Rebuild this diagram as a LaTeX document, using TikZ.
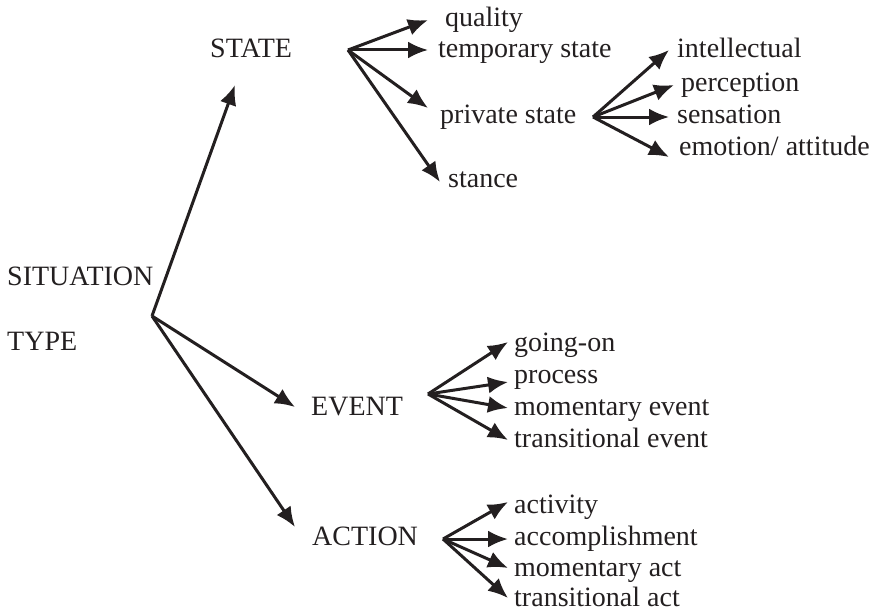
\documentclass[tikz,border=0pt]{standalone}
\usepackage{fontspec}
\setmainfont{Liberation Serif}
\usetikzlibrary{arrows.meta}
\definecolor{ink}{RGB}{35,31,32}
\begin{document}
\begin{tikzpicture}[x=1pt,y=-1pt,
  lbl/.style={anchor=base west,inner sep=0pt,text=ink,font=\fontsize{28}{34}\selectfont},
  arr/.style={draw=ink,line width=3pt,-{Latex[length=20pt,width=17pt]}}]
\useasboundingbox (0,0) rectangle (874,615);
% text nodes
\node[lbl] (sit) at (7,285) {SITUATION};
\node[lbl] (typ) at (7,350) {TYPE};
\node[lbl] (state) at (210,58) {STATE};
\node[lbl] (event) at (311,415) {EVENT};
\node[lbl] (action) at (312,545) {ACTION};
\node[lbl] (quality) at (445,27) {quality};
\node[lbl] (temp) at (438,58) {temporary state};
\node[lbl] (priv) at (440,123) {private state};
\node[lbl] (stance) at (448,187) {stance};
\node[lbl] (intel) at (677,58) {intellectual};
\node[lbl] (perc) at (681,92) {perception};
\node[lbl] (sens) at (677,123) {sensation};
\node[lbl] (emo) at (679,155) {emotion/ attitude};
\node[lbl] (going) at (514,351) {going-on};
\node[lbl] (proc) at (514,383) {process};
\node[lbl] (momev) at (514,415) {momentary event};
\node[lbl] (transev) at (514,447) {transitional event};
\node[lbl] (activ) at (514,513) {activity};
\node[lbl] (accomp) at (514,545) {accomplishment};
\node[lbl] (momact) at (514,576) {momentary act};
\node[lbl] (transact) at (514,606) {transitional act};
% fork points and arrow tips
\coordinate (fsit) at (152,316);
\coordinate (tstate) at (235,85);
\coordinate (tevent) at (295,407);
\coordinate (taction) at (295,527);
\coordinate (fstate) at (348,50);
\coordinate (tquality) at (428,20);
\coordinate (ttemp) at (428,50);
\coordinate (tpriv) at (428,108);
\coordinate (tstance) at (440,182);
\coordinate (fpriv) at (593,117);
\coordinate (tintel) at (669,50);
\coordinate (tperc) at (674,85);
\coordinate (tsens) at (669,117);
\coordinate (temo) at (669,157);
\coordinate (fevent) at (428,394);
\coordinate (tgoing) at (508,342);
\coordinate (tproc) at (508,382);
\coordinate (tmomev) at (508,408);
\coordinate (ttransev) at (508,440);
\coordinate (faction) at (443,539);
\coordinate (tactiv) at (508,502);
\coordinate (taccomp) at (508,539);
\coordinate (tmomact) at (508,568);
\coordinate (ttransact) at (508,598);
% connectors
\draw[arr] (fsit) -- (tstate);
\draw[arr] (fsit) -- (tevent);
\draw[arr] (fsit) -- (taction);
\draw[arr] (fstate) -- (tquality);
\draw[arr] (fstate) -- (ttemp);
\draw[arr] (fstate) -- (tpriv);
\draw[arr] (fstate) -- (tstance);
\draw[arr] (fpriv) -- (tintel);
\draw[arr] (fpriv) -- (tperc);
\draw[arr] (fpriv) -- (tsens);
\draw[arr] (fpriv) -- (temo);
\draw[arr] (fevent) -- (tgoing);
\draw[arr] (fevent) -- (tproc);
\draw[arr] (fevent) -- (tmomev);
\draw[arr] (fevent) -- (ttransev);
\draw[arr] (faction) -- (tactiv);
\draw[arr] (faction) -- (taccomp);
\draw[arr] (faction) -- (tmomact);
\draw[arr] (faction) -- (ttransact);
\end{tikzpicture}
\end{document}
